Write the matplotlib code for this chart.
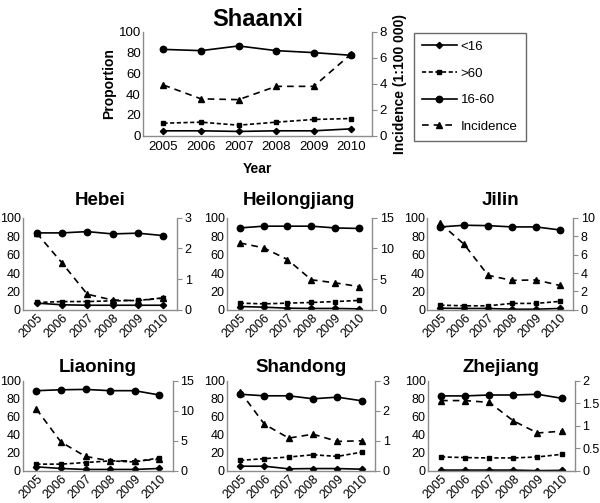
import matplotlib
matplotlib.use('Agg')
from matplotlib import pyplot as plt
from matplotlib.lines import Line2D

plt.rcParams['font.family'] = ['Liberation Sans', 'DejaVu Sans']

years = [2005, 2006, 2007, 2008, 2009, 2010]

# proportions (%) per age group, incidence per 100 000
shaanxi_u16 = [4.8, 4.8, 4.2, 4.8, 4.8, 6.7]
shaanxi_o60 = [12.1, 13.1, 10.2, 13.1, 15.7, 16.6]
shaanxi_mid = [83, 81.8, 86.3, 81.8, 79.9, 77.3]
shaanxi_inc = [3.9, 2.84, 2.78, 3.8, 3.8, 6.3]

hebei_u16 = [7.3, 5.5, 5, 5, 5, 5]
hebei_o60 = [8, 9, 9, 9.8, 10.2, 13]
hebei_mid = [83.6, 83.6, 85, 82.5, 83.3, 80.7]
hebei_inc = [2.5, 1.53, 0.51, 0.32, 0.3, 0.38]

heilong_u16 = [3.6, 2.9, 1.8, 1.5, 1.5, 1.1]
heilong_o60 = [7.3, 6.5, 7.3, 8, 9, 10.2]
heilong_mid = [89, 90.9, 90.9, 90.9, 89, 88.4]
heilong_inc = [10.9, 10.1, 8.2, 4.9, 4.4, 3.8]

jilin_u16 = [1.8, 1.5, 1.5, 0.7, 0.7, 1.5]
jilin_o60 = [5.1, 4.4, 4.4, 7, 7, 9.2]
jilin_mid = [90.1, 91.9, 91.5, 90.1, 90.1, 86.8]
jilin_inc = [9.4, 7.1, 3.75, 3.2, 3.25, 2.65]

liaoning_u16 = [4.4, 2.6, 1.5, 1.5, 1.5, 2.6]
liaoning_o60 = [7.4, 7.4, 9.2, 11, 9.9, 14.3]
liaoning_mid = [89, 90, 90.4, 89, 89, 84.2]
liaoning_inc = [10.3, 4.8, 2.4, 1.65, 1.65, 1.9]

shandong_u16 = [5.1, 5.1, 2.2, 2.5, 2.5, 1.8]
shandong_o60 = [11.6, 13.5, 15.3, 17.8, 16, 20.7]
shandong_mid = [85, 83.3, 83.3, 80, 81.8, 77.8]
shandong_inc = [2.64, 1.55, 1.09, 1.22, 0.98, 1.0]

zhejiang_u16 = [0.8, 0.8, 0.8, 0.8, 0.2, 0.5]
zhejiang_o60 = [15.4, 14.7, 14.3, 14.3, 15.4, 18.3]
zhejiang_mid = [83.2, 83.2, 84.2, 84.2, 85, 80.6]
zhejiang_inc = [1.56, 1.56, 1.52, 1.11, 0.84, 0.88]

GREY = '#8c8c8c'
DOT = (0, (2.5, 1.5))
DASH = (0, (4, 3))


def panel(rect, name, u16, o60, mid, inc, inc_max, inc_step, main=False, tpad=7):
    ax = fig.add_axes(rect)
    ax2 = ax.twinx()
    ax.plot(years, u16, '-', color='k', lw=1.2, marker='D', ms=3.2)
    ax.plot(years, o60, color='k', lw=1.2, ls=DOT, marker='s', ms=3.2)
    ax.plot(years, mid, '-', color='k', lw=1.2, marker='o', ms=4.6)
    ax2.plot(years, inc, color='k', lw=1.2, ls=DASH, marker='^', ms=4.3)
    ax.set_ylim(0, 100)
    ax.set_yticks(range(0, 101, 20))
    ax2.set_ylim(0, inc_max)
    ticks = []
    v = 0
    while v <= inc_max + 1e-9:
        ticks.append(round(v, 2))
        v += inc_step
    ax2.set_yticks(ticks)
    ax2.set_yticklabels(['%g' % t for t in ticks])
    ax.set_xlim(2004.45, 2010.55)
    ax.set_xticks(years)
    for a in (ax, ax2):
        a.spines['top'].set_visible(False)
        for s in ('left', 'right', 'bottom'):
            a.spines[s].set_color(GREY)
            a.spines[s].set_linewidth(1.0)
    ax.spines['right'].set_visible(False)
    ax2.spines['left'].set_visible(False)
    ax2.spines['bottom'].set_visible(False)
    ax.tick_params(axis='y', length=0, labelsize=9, pad=1.5)
    ax.tick_params(axis='x', length=0, labelsize=9, pad=1.5)
    ax2.tick_params(axis='y', length=3.5, color=GREY, labelsize=9, pad=2)
    if main:
        ax.set_title(name, fontsize=17, fontweight='bold', pad=4)
        ax.set_ylabel('Proportion', fontsize=10, fontweight='bold', labelpad=2)
        ax2.set_ylabel('Incidence (1:100 000)', fontsize=10, fontweight='bold', labelpad=4)
        ax.set_xlabel('Year', fontsize=10, fontweight='bold', labelpad=6)
        ax.tick_params(axis='both', labelsize=9.5)
        ax.tick_params(axis='x', pad=4)
        ax2.tick_params(axis='y', labelsize=9.5)
    else:
        ax.set_title(name, fontsize=13.5, fontweight='bold', pad=tpad)
        plt.setp(ax.get_xticklabels(), rotation=45, ha='right', rotation_mode='anchor')
    return ax, ax2


fig = plt.figure(figsize=(6, 5.03), dpi=100)

panel([0.238, 0.730, 0.382, 0.207], 'Shaanxi',
      shaanxi_u16, shaanxi_o60, shaanxi_mid, shaanxi_inc, 8, 2, main=True)
panel([0.038, 0.384, 0.257, 0.183], 'Hebei',
      hebei_u16, hebei_o60, hebei_mid, hebei_inc, 3, 1, tpad=9)
panel([0.378, 0.384, 0.242, 0.183], 'Heilongjiang',
      heilong_u16, heilong_o60, heilong_mid, heilong_inc, 15, 5, tpad=9)
panel([0.712, 0.384, 0.243, 0.183], 'Jilin',
      jilin_u16, jilin_o60, jilin_mid, jilin_inc, 10, 2, tpad=9)
panel([0.038, 0.064, 0.250, 0.179], 'Liaoning',
      liaoning_u16, liaoning_o60, liaoning_mid, liaoning_inc, 15, 5, tpad=6)
panel([0.378, 0.064, 0.247, 0.179], 'Shandong',
      shandong_u16, shandong_o60, shandong_mid, shandong_inc, 3, 1, tpad=6)
panel([0.713, 0.064, 0.245, 0.179], 'Zhejiang',
      zhejiang_u16, zhejiang_o60, zhejiang_mid, zhejiang_inc, 2, 0.5, tpad=6)

handles = [
    Line2D([], [], color='k', lw=1.2, marker='D', ms=3.2),
    Line2D([], [], color='k', lw=1.2, ls=DOT, marker='s', ms=3.2),
    Line2D([], [], color='k', lw=1.2, marker='o', ms=4.6),
    Line2D([], [], color='k', lw=1.2, ls=DASH, marker='^', ms=4.3),
]
labels = ['<16', '>60', '16-60', 'Incidence']
leg = fig.legend(handles, labels, loc='upper left', bbox_to_anchor=(0.69, 0.935),
                 frameon=True, fancybox=False, edgecolor='#444444', fontsize=9.5,
                 handlelength=2.65, labelspacing=1.1, borderpad=0.6, handletextpad=0.3,
                 borderaxespad=0)
leg.get_frame().set_linewidth(1.0)

fig.savefig('out.png', dpi=100)
